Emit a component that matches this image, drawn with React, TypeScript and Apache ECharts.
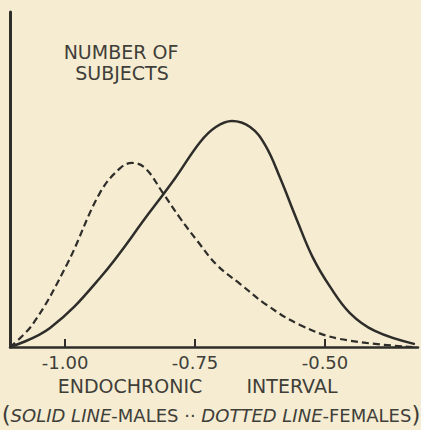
import React, { useEffect, useRef } from "react";
import * as echarts from "echarts";

// Endochronic interval (x) vs number of subjects (relative units, y)
const malesX = [-1.106, -1.029, -0.933, -0.837, -0.788, -0.74, -0.71, -0.679, -0.644, -0.615, -0.587, -0.554, -0.523, -0.49, -0.452, -0.404, -0.327];
const malesY = [0, 8.5, 30.9, 60.4, 75.7, 91.8, 98.5, 101.2, 98.5, 90.4, 76.1, 56.9, 39.9, 26.9, 15.2, 7.2, 1.3];
const femalesX = [-1.106, -1.062, -0.996, -0.933, -0.894, -0.871, -0.846, -0.813, -0.779, -0.744, -0.708, -0.663, -0.612, -0.548, -0.471, -0.331];
const femalesY = [0, 10.3, 37.2, 69.0, 80.1, 82.4, 80.1, 69.4, 57.8, 47.0, 36.7, 28.2, 18.8, 9.9, 3.6, 0];
const tickValues = [-1.0, -0.75, -0.5];
const tickLabels = ["-1.00", "-0.75", "-0.50"];

const INK = "#2e2d2a";
const TEXT = "#403e39";
const FONT = "'DejaVu Sans', 'Liberation Sans', sans-serif";

export default function App() {
  const ref = useRef<HTMLDivElement>(null);
  useEffect(() => {
    if (!ref.current) return;
    const chart = echarts.init(ref.current, undefined, { renderer: "svg" });
    const pair = (xs: number[], ys: number[]) => xs.map((x, i) => [x, ys[i]]);
    const label = (text: string, x: number, y: number, size = 18) => ({
      type: "text",
      x,
      y,
      style: {
        text,
        fill: TEXT,
        font: `${size}px ${FONT}`,
        align: "center",
        verticalAlign: "middle",
      },
    });
    chart.setOption({
      animation: false,
      backgroundColor: "#f5ecd1",
      grid: { left: 10, right: 3, top: 12, bottom: 83, containLabel: false },
      xAxis: {
        type: "value",
        min: -1.106,
        max: -0.321,
        axisLine: { show: true, lineStyle: { color: INK, width: 2.5 } },
        axisTick: {
          show: true,
          customValues: tickValues,
          inside: true,
          length: 8,
          lineStyle: { color: INK, width: 2 },
        },
        axisLabel: {
          show: true,
          customValues: tickValues,
          formatter: (v: number) => {
            const i = tickValues.findIndex((t) => Math.abs(t - v) < 1e-6);
            return i >= 0 ? tickLabels[i] : "";
          },
          color: TEXT,
          fontSize: 18,
          fontFamily: FONT,
          margin: 6,
        },
        splitLine: { show: false },
      },
      yAxis: {
        type: "value",
        min: 0,
        max: 150,
        axisLine: { show: true, lineStyle: { color: INK, width: 3 } },
        axisTick: { show: false },
        axisLabel: { show: false },
        splitLine: { show: false },
      },
      series: [
        {
          name: "Males",
          type: "line",
          data: pair(malesX, malesY),
          smooth: 0.4,
          showSymbol: false,
          lineStyle: { color: INK, width: 2.5 },
          z: 3,
        },
        {
          name: "Females",
          type: "line",
          data: pair(femalesX, femalesY),
          smooth: 0.4,
          showSymbol: false,
          lineStyle: { color: INK, width: 2.2, type: [7, 4] },
          z: 3,
        },
      ],
      graphic: [
        label("NUMBER OF", 121, 52, 19),
        label("SUBJECTS", 122, 73, 19),
        label("ENDOCHRONIC", 130, 386, 19),
        label("INTERVAL", 292, 386, 19),
        {
          type: "text",
          x: 211,
          y: 415,
          style: {
            text: "{p|(}{i|SOLID LINE}{n|-MALES ··}{i| DOTTED LINE}{n|-FEMALES}{p|)}",
            align: "center",
            verticalAlign: "middle",
            rich: {
              p: { fill: TEXT, fontSize: 23, fontFamily: FONT },
              i: { fill: TEXT, fontSize: 18, fontStyle: "italic", fontFamily: FONT },
              n: { fill: TEXT, fontSize: 18, fontFamily: FONT },
            },
          },
        },
      ],
    });
    return () => chart.dispose();
  }, []);
  return (
    <div
      ref={ref}
      style={{ position: "fixed", left: 0, top: 0, width: 421, height: 430 }}
    />
  );
}
